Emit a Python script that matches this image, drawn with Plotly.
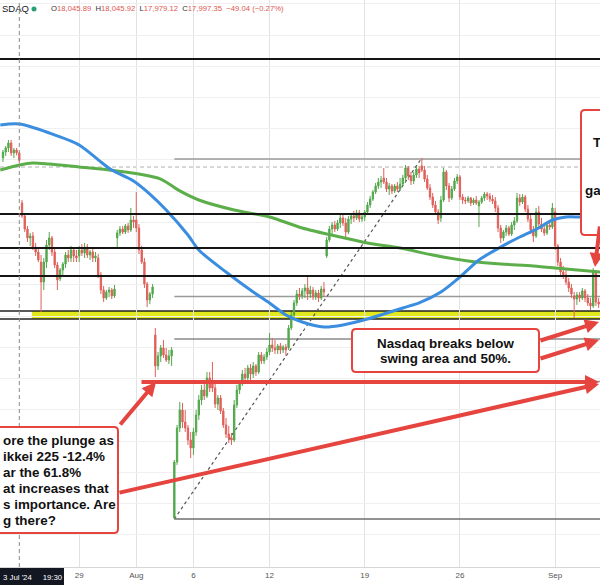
import plotly.graph_objects as go

# ---------------- data (Nasdaq, hourly bars, 7 per session) ----------------
opens = [
    18013, 18051, 18077, 18109, 18045, 18064, 18045.89,
    17725, 17642, 17558, 17501, 17514, 17443, 17411,
    17347, 17219, 17347, 17456, 17501, 17411, 17328,
    17240, 17296, 17334, 17392, 17373, 17424, 17386,
    17386, 17424, 17405, 17443, 17392, 17411, 17373,
    17373, 17264, 17168, 17117, 17155, 17168, 17130,
    17501, 17533, 17558, 17539, 17578, 17552, 17616,
    17616, 17565, 17424, 17347, 17206, 17104, 17142,
    16880, 16682, 16746, 16797, 16752, 16720, 16746,
    15709, 16067, 16285, 16400, 16323, 16285, 16208,
    16157, 16259, 16368, 16464, 16528, 16490, 16605,
    16592, 16541, 16438, 16477, 16394, 16304, 16246,
    16221, 16208, 16432, 16528, 16566, 16630, 16605,
    16669, 16630, 16682, 16643, 16752, 16714, 16739,
    16771, 16816, 16797, 16784, 16810, 16784, 16803,
    16797, 16925, 17008, 17085, 17142, 17130, 17162,
    17181, 17142, 17168, 17123, 17149, 17117, 17174,
    17386, 17488, 17558, 17584, 17558, 17597, 17629,
    17597, 17539, 17622, 17642, 17629, 17661, 17622,
    17635, 17667, 17712, 17750, 17795, 17834, 17859,
    17885, 17859, 17814, 17834, 17802, 17834, 17814,
    17846, 17885, 17949, 17898, 17866, 17904, 17942,
    17962, 17936, 17878, 17821, 17763, 17712, 17667,
    17629, 17744, 17923, 17834, 17757, 17814, 17866,
    17891, 17763, 17744, 17738, 17757, 17725, 17744,
    17706, 17731, 17757, 17782, 17770, 17750, 17738,
    17693, 17565, 17501, 17539, 17565, 17526, 17584,
    17610, 17757, 17731, 17763, 17686, 17622, 17552,
    17514, 17667, 17590, 17558, 17533, 17584, 17571,
    17667, 17450, 17347, 17283, 17264, 17219, 17181,
    17130, 17110, 17136, 17117, 17162, 17117, 17085,
    17066, 17283, 17091,
]
highs = [
    18064, 18090, 18128, 18128, 18077, 18077, 18045.92,
    17744, 17654, 17578, 17533, 17539, 17469, 17430,
    17392, 17373, 17488, 17539, 17514, 17437, 17347,
    17309, 17347, 17411, 17424, 17450, 17443, 17424,
    17450, 17462, 17469, 17462, 17424, 17430, 17411,
    17398, 17283, 17194, 17168, 17187, 17181, 17200,
    17552, 17578, 17578, 17590, 17597, 17693, 17642,
    17795, 17590, 17450, 17373, 17219, 17155, 17206,
    16925, 16771, 16816, 16848, 16797, 16784, 16803,
    16080, 16304, 16451, 16445, 16400, 16304, 16259,
    16285, 16400, 16496, 16560, 16566, 16643, 16643,
    16707, 16566, 16496, 16496, 16413, 16349, 16298,
    16253, 16464, 16560, 16592, 16656, 16669, 16688,
    16694, 16707, 16694, 16771, 16771, 16758, 16797,
    16893, 16861, 16848, 16822, 16829, 16816, 16822,
    16944, 17027, 17104, 17168, 17181, 17181, 17206,
    17251, 17194, 17187, 17168, 17168, 17194, 17219,
    17507, 17578, 17603, 17610, 17616, 17648, 17648,
    17629, 17642, 17661, 17674, 17680, 17680, 17654,
    17680, 17731, 17770, 17808, 17853, 17885, 17898,
    17949, 17885, 17853, 17846, 17846, 17859, 17885,
    17904, 17968, 17962, 17923, 17923, 17962, 17962,
    18013, 17962, 17904, 17846, 17789, 17738, 17686,
    17770, 17949, 17936, 17853, 17834, 17885, 17910,
    17904, 17782, 17763, 17770, 17763, 17757, 17770,
    17744, 17770, 17795, 17795, 17789, 17776, 17763,
    17712, 17584, 17552, 17584, 17578, 17603, 17635,
    17789, 17782, 17782, 17776, 17712, 17648, 17578,
    17693, 17706, 17629, 17578, 17603, 17616, 17725,
    17693, 17462, 17373, 17322, 17296, 17245, 17206,
    17155, 17155, 17155, 17181, 17174, 17142, 17117,
    17309, 17296, 17117,
]
lows = [
    17987, 18026, 18051, 18026, 18013, 18030, 17979.12,
    17629, 17539, 17475, 17450, 17424, 17386, 17347,
    17027, 17168, 17309, 17424, 17386, 17309, 17168,
    17225, 17264, 17309, 17347, 17347, 17347, 17347,
    17347, 17386, 17373, 17373, 17360, 17347, 17347,
    17245, 17142, 17091, 17104, 17123, 17110, 17117,
    17437, 17514, 17526, 17526, 17533, 17539, 17565,
    17539, 17398, 17334, 17181, 17059, 17078, 17117,
    16611, 16656, 16707, 16733, 16707, 16694, 16682,
    15702, 16048, 16259, 16285, 16259, 16176, 16093,
    16112, 16234, 16336, 16432, 16464, 16477, 16515,
    16515, 16413, 16400, 16374, 16285, 16221, 16189,
    16176, 16195, 16413, 16502, 16554, 16579, 16592,
    16592, 16605, 16618, 16630, 16694, 16694, 16720,
    16752, 16771, 16758, 16758, 16758, 16765, 16746,
    16784, 16912, 16989, 17066, 17104, 17110, 17117,
    17104, 17117, 17104, 17104, 17091, 17104, 17123,
    17373, 17475, 17526, 17539, 17546, 17565, 17578,
    17501, 17526, 17590, 17603, 17616, 17603, 17603,
    17610, 17654, 17693, 17738, 17782, 17814, 17821,
    17846, 17795, 17776, 17782, 17789, 17795, 17802,
    17834, 17853, 17872, 17840, 17846, 17885, 17885,
    17923, 17859, 17808, 17744, 17693, 17648, 17590,
    17603, 17731, 17808, 17731, 17744, 17802, 17846,
    17744, 17718, 17718, 17725, 17706, 17712, 17712,
    17571, 17718, 17738, 17744, 17731, 17718, 17667,
    17539, 17469, 17482, 17514, 17514, 17514, 17552,
    17597, 17706, 17718, 17667, 17603, 17526, 17475,
    17501, 17565, 17539, 17514, 17520, 17552, 17558,
    17424, 17322, 17258, 17238, 17200, 17155, 17117,
    16989, 17072, 17091, 17104, 17091, 17066, 17040,
    17053, 17066, 17053,
]
closes = [
    18051, 18077, 18109, 18045, 18064, 18046.39, 17997.35,
    17642, 17558, 17501, 17514, 17443, 17411, 17360,
    17219, 17347, 17456, 17501, 17411, 17328, 17232,
    17296, 17334, 17392, 17373, 17424, 17386, 17373,
    17424, 17405, 17443, 17392, 17411, 17373, 17386,
    17264, 17168, 17117, 17155, 17168, 17130, 17174,
    17533, 17558, 17539, 17578, 17552, 17616, 17603,
    17565, 17424, 17347, 17206, 17104, 17142, 17187,
    16682, 16746, 16797, 16752, 16720, 16746, 16784,
    16067, 16285, 16400, 16323, 16285, 16208, 16157,
    16259, 16368, 16464, 16528, 16490, 16605, 16541,
    16541, 16438, 16477, 16394, 16304, 16246, 16221,
    16208, 16432, 16528, 16566, 16630, 16605, 16669,
    16630, 16682, 16643, 16752, 16714, 16739, 16771,
    16816, 16797, 16784, 16810, 16784, 16803, 16784,
    16925, 17008, 17085, 17142, 17130, 17162, 17181,
    17142, 17168, 17123, 17149, 17117, 17174, 17155,
    17488, 17558, 17584, 17558, 17597, 17629, 17597,
    17539, 17622, 17642, 17629, 17661, 17622, 17635,
    17667, 17712, 17750, 17795, 17834, 17859, 17872,
    17859, 17814, 17834, 17802, 17834, 17814, 17846,
    17885, 17949, 17898, 17866, 17904, 17942, 17917,
    17936, 17878, 17821, 17763, 17712, 17667, 17616,
    17744, 17923, 17834, 17757, 17814, 17866, 17891,
    17763, 17744, 17738, 17757, 17725, 17744, 17725,
    17731, 17757, 17782, 17770, 17750, 17738, 17693,
    17565, 17501, 17539, 17565, 17526, 17584, 17610,
    17757, 17731, 17763, 17686, 17622, 17552, 17514,
    17667, 17590, 17558, 17533, 17584, 17571, 17693,
    17450, 17347, 17283, 17264, 17219, 17181, 17142,
    17110, 17136, 17117, 17162, 17117, 17085, 17066,
    17283, 17091, 17078,
]

tick_bars = [28, 49, 70, 98, 133, 168, 203]
tick_text = ["29", "Aug", "6", "12", "19", "26", "Sep"]

ma_blue_bars = [-1, 6, 17, 28, 36, 40, 48, 54, 60, 68, 72, 82, 92, 98, 104, 110,
                118, 125, 134, 140, 147, 153, 161, 168, 175, 183, 190, 197, 202,
                207, 212, 220]
ma_blue = [18224, 18230, 18173, 18096, 17987, 17936, 17866, 17782, 17680, 17520,
           17424, 17283, 17155, 17085, 17008, 16963, 16931, 16944, 16982, 17014,
           17053, 17085, 17155, 17251, 17360, 17443, 17507, 17565, 17616, 17635,
           17635, 17635]
ma_green_bars = [-1, 6, 11, 17, 28, 39, 50, 58, 65, 72, 85, 98, 110, 124, 134,
                 146, 158, 171, 183, 195, 207, 220]
ma_green = [17936, 17968, 17981, 17974, 17955, 17936, 17910, 17878, 17802, 17744,
            17680, 17635, 17565, 17507, 17469, 17437, 17392, 17354, 17334, 17322,
            17302, 17283]

black_levels = [18646, 17654, 17437, 17258]
swing_zone = [16982, 17034]
fib_levels = [18006, 17126, 16854, 16582, 15702]
fib_colors = ["#9a9a9a", "#9a9a9a", "#8a8a8a", "#9a9a9a", "#6e6e6e"]
fib_start_bar = 63
fib_high_bar = 154
crosshair_bar = 6
crosshair_price = 17955

# ---------------- layout helpers ----------------
W, H, PH = 600, 585, 567
X_RANGE = [-1.1, 219.5]
Y_RANGE = [15395, 19024]
RED = "#e5443f"
GREEN_C = "#53a84c"
RED_C = "#e0605a"


def xp(px):
    return px / W


def yp(py):
    return 1 - py / PH


def rbox(x0, y0, x1, y1, r=4):
    def P(x, y):
        return f"{xp(x):.5f},{yp(y):.5f}"
    return (f"M {P(x0 + r, y0)} L {P(x1 - r, y0)} Q {P(x1, y0)} {P(x1, y0 + r)} "
            f"L {P(x1, y1 - r)} Q {P(x1, y1)} {P(x1 - r, y1)} "
            f"L {P(x0 + r, y1)} Q {P(x0, y1)} {P(x0, y1 - r)} "
            f"L {P(x0, y0 + r)} Q {P(x0, y0)} {P(x0 + r, y0)} Z")


fig = go.Figure()

fig.add_trace(go.Candlestick(
    x=list(range(len(opens))), open=opens, high=highs, low=lows, close=closes,
    increasing=dict(line=dict(color=GREEN_C, width=1), fillcolor=GREEN_C),
    decreasing=dict(line=dict(color=RED_C, width=1), fillcolor=RED_C),
    whiskerwidth=0, showlegend=False, hoverinfo="skip"))

fig.add_trace(go.Scatter(x=ma_green_bars, y=ma_green, mode="lines",
                         line=dict(color="#5cae4a", width=3, shape="spline", smoothing=0.8),
                         showlegend=False, hoverinfo="skip"))
fig.add_trace(go.Scatter(x=ma_blue_bars, y=ma_blue, mode="lines",
                         line=dict(color="#3b8de0", width=3, shape="spline", smoothing=0.8),
                         showlegend=False, hoverinfo="skip"))

shapes = []
# swing zone (yellow)
shapes.append(dict(type="rect", xref="paper", x0=xp(32), x1=1, yref="y",
                   y0=swing_zone[0], y1=swing_zone[1], fillcolor="#e2ea1e",
                   line=dict(width=0), layer="between"))
for lv in swing_zone:
    shapes.append(dict(type="line", xref="paper", x0=0, x1=1, yref="y", y0=lv, y1=lv,
                       line=dict(color="#222", width=1.5), layer="between"))
# fib retracement lines
for lv, col in zip(fib_levels, fib_colors):
    shapes.append(dict(type="line", xref="x", x0=fib_start_bar, x1=X_RANGE[1] + 5,
                       yref="y", y0=lv, y1=lv, line=dict(color=col, width=1.5),
                       layer="between"))
shapes.append(dict(type="line", xref="x", x0=fib_start_bar, x1=fib_high_bar, yref="y",
                   y0=lows[fib_start_bar], y1=highs[fib_high_bar],
                   line=dict(color="#555", width=1.2, dash="3px,3px"), layer="between"))
# black horizontal levels
for lv in black_levels:
    shapes.append(dict(type="line", xref="paper", x0=0, x1=1, yref="y", y0=lv, y1=lv,
                       line=dict(color="#151515", width=2), layer="above"))
# crosshair
shapes.append(dict(type="line", xref="x", x0=crosshair_bar, x1=crosshair_bar,
                   yref="paper", y0=0, y1=1,
                   line=dict(color="#8a8a8a", width=1, dash="4px,3px"), layer="above"))
shapes.append(dict(type="line", xref="paper", x0=0, x1=1, yref="y",
                   y0=crosshair_price, y1=crosshair_price,
                   line=dict(color="#b0b0b0", width=1, dash="4px,3px"), layer="between"))
# annotation boxes
for (bx0, by0, bx1, by1) in [(-20, 427, 118, 533), (352, 329, 539, 372), (581, 110, 650, 235)]:
    shapes.append(dict(type="path", xref="paper", yref="paper", path=rbox(bx0, by0, bx1, by1),
                       fillcolor="white", line=dict(color=RED, width=2), layer="above"))
# crosshair date label box
shapes.append(dict(type="rect", xref="paper", yref="paper", x0=xp(-30), x1=xp(64),
                   y0=yp(585), y1=yp(568), fillcolor="#131722", line=dict(width=0),
                   layer="above"))
# legend dot
shapes.append(dict(type="circle", xref="paper", yref="paper", x0=xp(31.5), x1=xp(36.5),
                   y0=yp(11.5), y1=yp(6.5), fillcolor="#2a9d7c", line=dict(width=0),
                   layer="above"))

ann = []
FONT = "Liberation Sans, Arial, sans-serif"


def txt(text, x, y, size=13.4, anchor="left", color="#111", bold=True):
    ann.append(dict(text=f"<b>{text}</b>" if bold else text, xref="paper", yref="paper",
                    x=xp(x), y=yp(y), xanchor=anchor, yanchor="middle", showarrow=False,
                    font=dict(family=FONT, size=size, color=color)))


left_lines = ["ore the plunge as", "ikkei 225 -12.4%", "ar the 61.8%",
              "at increases that", "s importance. Are", "g there?"]
for line, ly in zip(left_lines, [440, 456.5, 472.5, 488, 504, 520]):
    txt(line, 1, ly)
txt("Nasdaq breaks below", 445.5, 343, anchor="center")
txt("swing area and 50%.", 445.5, 358.5, anchor="center")
txt("T", 591, 142)
txt("ga", 582.5, 190)

# header
txt("SDAQ", 0, 9, size=9.5, anchor="left", color="#131722", bold=False)
v = "color:#e0574f"
header = (f"O<span style='{v}'>18,045.89</span>&nbsp; H<span style='{v}'>18,045.92</span>&nbsp; "
          f"L<span style='{v}'>17,979.12</span>&nbsp; C<span style='{v}'>17,997.35</span>&nbsp; "
          f"<span style='{v}'>−49.04 (−0.27%)</span>")
txt(header, 48.5, 9, size=7.7, color="#333", bold=False)
# crosshair time label (left part clipped in the reference)
txt("3 Jul '24&nbsp;&nbsp;&nbsp;&nbsp;&nbsp;19:30", 1, 577, size=7.8, anchor="left",
    color="white", bold=False)

# red arrows (tail -> tip), pixel coordinates
arrows = [((119, 426), (156, 382)), ((140, 382), (599, 382)), ((118, 493), (599, 384)),
          ((539, 341), (599, 322)), ((539, 359), (599, 340)), ((625, 225), (595, 267))]
for (tx, ty), (hx, hy) in arrows:
    ann.append(dict(text="", xref="paper", yref="paper", x=xp(hx), y=yp(hy),
                    axref="pixel", ayref="pixel", ax=tx - hx, ay=ty - hy,
                    showarrow=True, arrowhead=2, arrowsize=0.7, arrowwidth=4,
                    arrowcolor=RED, standoff=0, startstandoff=0))

fig.update_layout(
    width=W, height=H, margin=dict(l=0, r=0, t=0, b=H - PH),
    paper_bgcolor="white", plot_bgcolor="white", showlegend=False,
    shapes=shapes, annotations=ann,
    xaxis=dict(range=X_RANGE, tickmode="array", tickvals=tick_bars, ticktext=tick_text,
               showgrid=True, gridcolor="#e2e2e2", gridwidth=1, zeroline=False,
               showline=True, linecolor="#d6d6d6", ticks="",
               tickfont=dict(family=FONT, size=8, color="#555"),
               rangeslider=dict(visible=False), fixedrange=True),
    yaxis=dict(range=Y_RANGE, showticklabels=False, showgrid=True, gridcolor="#efefef",
               tick0=0, dtick=200, zeroline=False, ticks="", fixedrange=True),
)

fig.write_html("out.html", config=dict(displayModeBar=False),
               post_script="document.body.style.margin='0';")
